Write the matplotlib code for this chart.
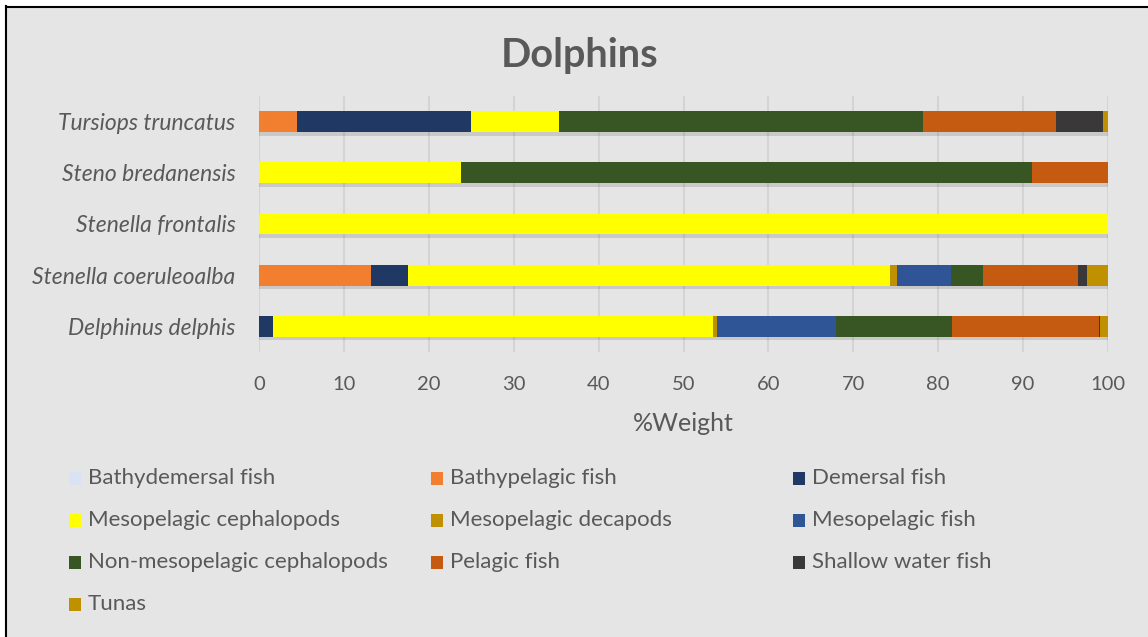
import matplotlib
matplotlib.use("Agg")
import matplotlib.pyplot as plt
import matplotlib.patheffects as pe
from matplotlib.patches import Rectangle
from matplotlib.lines import Line2D

# species, bottom to top
species = ["Delphinus delphis", "Stenella coeruleoalba", "Stenella frontalis",
           "Steno bredanensis", "Tursiops truncatus"]

categories = ["Bathydemersal fish", "Bathypelagic fish", "Demersal fish",
              "Mesopelagic cephalopods", "Mesopelagic decapods", "Mesopelagic fish",
              "Non-mesopelagic cephalopods", "Pelagic fish", "Shallow water fish", "Tunas"]

bathydemersal = [0, 0, 0, 0, 0]
bathypelagic = [0, 13.2, 0, 0, 4.5]
demersal = [1.6, 4.4, 0, 0, 20.5]
meso_ceph = [51.9, 56.7, 100, 23.8, 10.3]
meso_decapods = [0.4, 0.8, 0, 0, 0]
meso_fish = [14.1, 6.4, 0, 0, 0]
nonmeso_ceph = [13.6, 3.8, 0, 67.2, 42.9]
pelagic = [17.3, 11.2, 0, 9.0, 15.7]
shallow = [0.2, 1.0, 0, 0, 5.5]
tunas = [0.9, 2.5, 0, 0, 0.6]

series = [bathydemersal, bathypelagic, demersal, meso_ceph, meso_decapods,
          meso_fish, nonmeso_ceph, pelagic, shallow, tunas]
colors = ["#DAE3F3", "#F27F30", "#203864", "#FFFF00", "#BF9000",
          "#2F5597", "#375623", "#C55A11", "#3A3838", "#BF9000"]

txt = "#595959"
bg = "#E5E5E5"
font = "Lato"

fig = plt.figure(figsize=(11.48, 6.37), dpi=100, facecolor=bg)
W, H = 1148, 637

# white margin and black frame on top/left
fig.patches.append(Rectangle((0, 1 - 6 / H), 1, 6 / H, transform=fig.transFigure,
                             facecolor="white", edgecolor="none", zorder=0))
fig.patches.append(Rectangle((0, 0), 5 / W, 1, transform=fig.transFigure,
                             facecolor="white", edgecolor="none", zorder=0))
fig.lines.append(Line2D([5.5 / W, 5.5 / W], [0, 1 - 6 / H], transform=fig.transFigure,
                        color="black", lw=1.5))
fig.lines.append(Line2D([5.5 / W, 1], [1 - 6.5 / H, 1 - 6.5 / H], transform=fig.transFigure,
                        color="black", lw=1.5))

left, right, top, bottom = 259, 1108, 96, 352
ax = fig.add_axes([left / W, 1 - bottom / H, (right - left) / W, (bottom - top) / H])
ax.set_facecolor(bg)

ypos = list(range(len(species)))
base = [0] * len(species)
shadow = [pe.SimplePatchShadow(offset=(0, -2.5), shadow_rgbFace="black", alpha=0.12), pe.Normal()]
for vals, col in zip(series, colors):
    ax.barh(ypos, vals, left=base, height=0.41, color=col, linewidth=0,
            zorder=3, path_effects=shadow)
    base = [b + v for b, v in zip(base, vals)]

ax.set_xlim(0, 100)
ax.set_ylim(-0.5, 4.5)
ax.set_xticks(range(0, 101, 10))
ax.set_yticks(ypos)
ax.set_yticklabels(species, fontstyle="italic", fontsize=16.5, color=txt, family=font)
for lab in ax.get_xticklabels():
    lab.set_family(font)
ax.tick_params(axis="x", length=0, labelsize=14.5, labelcolor=txt, pad=17)
ax.tick_params(axis="y", length=0, pad=17)
ax.grid(axis="x", color="#D4D4D4", linewidth=1.5, zorder=0)
for s in ax.spines.values():
    s.set_visible(False)
ax.set_xlabel("%Weight", fontsize=18, color=txt, family=font, labelpad=14)

fig.text(580 / W, 1 - 55 / H, "Dolphins", ha="center", va="center", fontsize=28.5,
         fontweight="bold", color=txt, family=font)

# legend, 3 columns
col_x = [88, 450, 812]
row_y = [478, 520, 562, 604]
for i, (name, col) in enumerate(zip(categories, colors)):
    cx = col_x[i % 3]
    cy = row_y[i // 3]
    fig.patches.append(Rectangle(((cx - 19) / W, 1 - (cy + 7) / H), 12 / W, 13 / H,
                                 transform=fig.transFigure, facecolor=col,
                                 edgecolor="none"))
    fig.text(cx / W, 1 - cy / H, name, ha="left", va="center", fontsize=16,
             color=txt, family=font)

fig.savefig("out.png", dpi=100, facecolor=fig.get_facecolor())
